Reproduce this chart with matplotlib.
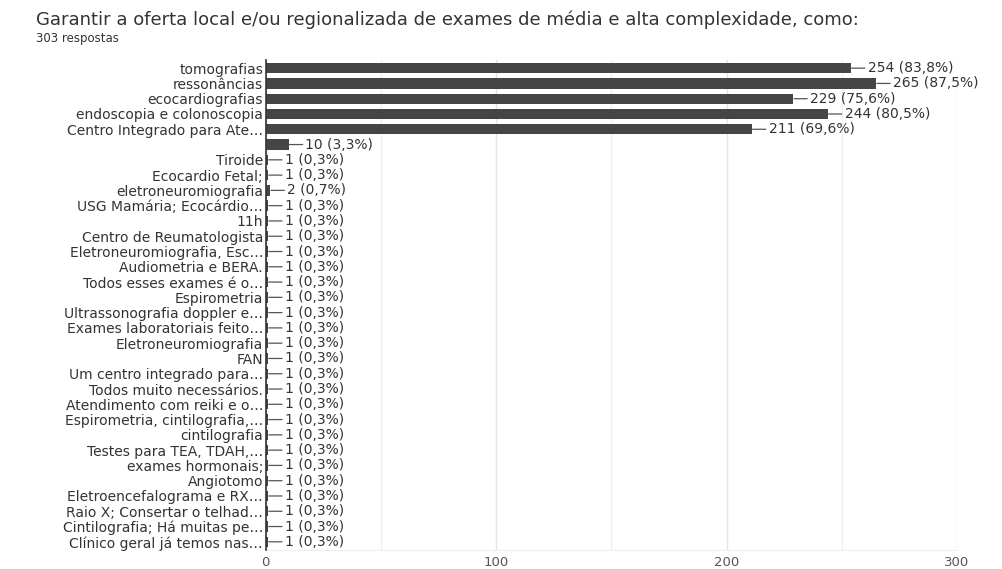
import matplotlib

matplotlib.use("Agg")
import matplotlib.pyplot as plt

plt.rcParams["font.family"] = ["DejaVu Sans"]

title = "Garantir a oferta local e/ou regionalizada de exames de média e alta complexidade, como:"
subtitle = "303 respostas"

categories = [
    "tomografias",
    "ressonâncias",
    "ecocardiografias",
    "endoscopia e colonoscopia",
    "Centro Integrado para Ate…",
    "",
    "Tiroide",
    "Ecocardio Fetal;",
    "eletroneuromiografia",
    "USG Mamária; Ecocárdio…",
    "11h",
    "Centro de Reumatologista",
    "Eletroneuromiografia, Esc…",
    "Audiometria e BERA.",
    "Todos esses exames é o…",
    "Espirometria",
    "Ultrassonografia doppler e…",
    "Exames laboratoriais feito…",
    "Eletroneuromiografia",
    "FAN",
    "Um centro integrado para…",
    "Todos muito necessários.",
    "Atendimento com reiki e o…",
    "Espirometria, cintilografia,…",
    "cintilografia",
    "Testes para TEA, TDAH,…",
    "exames hormonais;",
    "Angiotomo",
    "Eletroencefalograma e RX…",
    "Raio X; Consertar o telhad…",
    "Cintilografia; Há muitas pe…",
    "Clínico geral já temos nas…",
]
counts = [254, 265, 229, 244, 211, 10, 1, 1, 2] + [1] * 23
percents = ["83,8", "87,5", "75,6", "80,5", "69,6", "3,3", "0,3", "0,3", "0,7"] + ["0,3"] * 23

fig = plt.figure(figsize=(10.03, 5.69), dpi=100)
ax = fig.add_axes([0.265, 0.033, 0.689, 0.862])

y = list(range(len(categories)))
ax.barh(y, counts, height=0.68, color="#454545", zorder=3)

for yi, c, p in zip(y, counts, percents):
    ax.annotate(
        f"{c} ({p}%)",
        xy=(c, yi),
        xytext=(12, 0),
        textcoords="offset points",
        ha="left",
        va="center",
        fontsize=10,
        color="#333333",
        arrowprops=dict(arrowstyle="-", color="#555555", lw=0.9, shrinkA=0, shrinkB=0.5),
        zorder=4,
    )

ax.set_ylim(len(categories) - 0.45, -0.55)
ax.set_xlim(0, 300)
ax.set_yticks(y)
ax.set_yticklabels(categories, fontsize=10, color="#333333")
ax.set_xticks([0, 100, 200, 300])
ax.set_xticks([50, 150, 250], minor=True)
ax.tick_params(axis="x", length=0, labelsize=9.5, labelcolor="#555555", pad=4, which="both")
ax.tick_params(axis="y", length=0, pad=2)
ax.grid(axis="x", which="major", color="#e4e4e4", lw=1, zorder=0)
ax.grid(axis="x", which="minor", color="#f0f0f0", lw=1, zorder=0)
for side in ["top", "right"]:
    ax.spines[side].set_visible(False)
ax.spines["bottom"].set_color("#eeeeee")
ax.spines["left"].set_color("#333333")
ax.spines["left"].set_linewidth(1.2)
ax.spines["left"].set_zorder(5)

fig.text(0.036, 0.966, title, fontsize=13, color="#333333", ha="left", va="center")
fig.text(0.036, 0.932, subtitle, fontsize=8.5, color="#333333", ha="left", va="center")

fig.savefig("out.png", dpi=100, facecolor="white")
